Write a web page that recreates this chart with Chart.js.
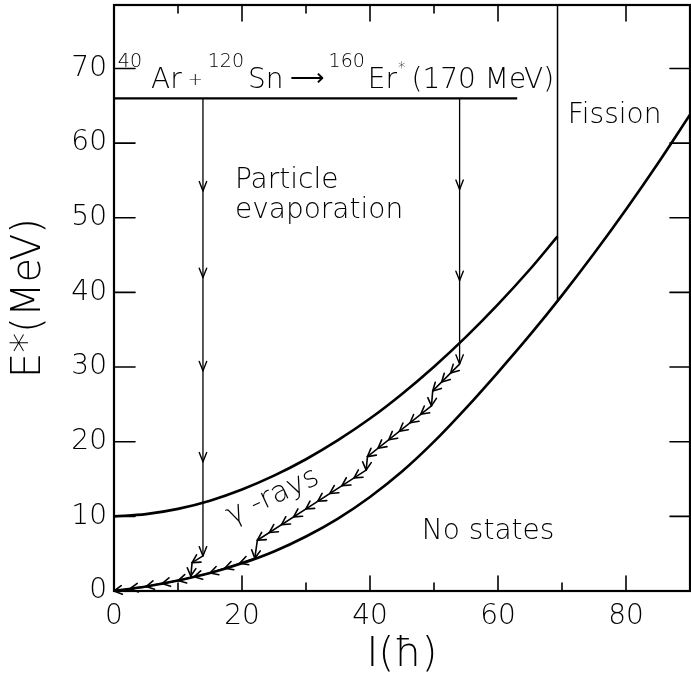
<!DOCTYPE html>
<html>
<head>
<meta charset="utf-8">
<script src="https://cdn.jsdelivr.net/npm/chart.js@4.4.0/dist/chart.umd.min.js"></script>
<style>
html, body { margin: 0; padding: 0; background: #fff; }
</style>
</head>
<body>
<canvas id="mycanvas" width="691" height="682"></canvas>
<script>
// --- data (spin I in hbar, excitation E* in MeV) ---
var spinGrid   = [0, 5, 10, 15, 20, 25, 30, 35, 40, 45, 50, 55, 60, 65, 70, 75, 80, 85, 90];
var noStatesE  = [0, 0.6, 1.4, 2.4, 3.7, 5.3, 7.3, 9.7, 12.6, 16.0, 20.0, 24.5, 29.3, 34.3, 39.6, 45.2, 51.1, 57.3, 63.8];

var evapSpin   = [0, 5, 10, 15, 20, 25, 30, 35, 40, 45, 50, 55, 60, 65, 69.3];
var evapE      = [10, 10.3, 11.0, 12.1, 13.6, 15.45, 17.65, 20.2, 23.1, 26.4, 30.05, 34.05, 38.4, 43.1, 47.5];

var fissionSpin = 69.3;
var fissionE    = [39.0, 78.5];

var entryE     = 66;
var entrySpin  = [0, 63];

var arrowSpinA  = 13.9;
var arrowA_E    = [66, 4.7];
var arrowHeadsA = [53.6, 42.0, 29.5, 17.3, 4.7];

var arrowSpinB  = 54;
var arrowB_E    = [66, 30.4];
var arrowHeadsB = [53.8, 41.6, 30.4];

var cascadeSpinB = [54, 49.8, 49.6, 39.6, 39.4, 22.4, 22.0, 15, 10, 5, 0];
var cascadeEB    = [30.4, 26.8, 24.8, 18.0, 16.2, 6.8, 4.4, 2.4, 1.4, 0.6, 0];
var cascadeSpinA = [13.9, 12.2, 12.0];
var cascadeEA    = [4.7, 3.8, 2.0];

var xTicks = [0, 20, 40, 60, 80];
var xMinor = [10, 30, 50, 70];
var topTicks = [10, 20, 30, 40, 50, 60, 80];
var yTicks = [0, 10, 20, 30, 40, 50, 60, 70];

var FONT = '"DejaVu Sans", sans-serif';
var WEIGHT = '200';
var INK = '#000';

function pts(xs, ys) {
	var out = [];
	for (var i in xs) out.push({x: xs[i], y: ys[i]});
	return out;
}
function vline(x, ys) {
	return ys.map(function(y) { return {x: x, y: y}; });
}

function chevron(ctx, x, y, dx, dy, len, ang) {
	var l = Math.sqrt(dx * dx + dy * dy);
	dx /= l; dy /= l;
	for (var s = -1; s <= 1; s += 2) {
		var c = Math.cos(ang * s), sn = Math.sin(ang * s);
		var rx = dx * c - dy * sn, ry = dx * sn + dy * c;
		ctx.beginPath();
		ctx.moveTo(x, y);
		ctx.lineTo(x - rx * len, y - ry * len);
		ctx.stroke();
	}
}

function noPad(s) {
	s.paddingTop = 0; s.paddingBottom = 0; s.paddingLeft = 0; s.paddingRight = 0;
}

var decorations = {
	id: 'decorations',
	afterDatasetsDraw: function(chart) {
		var ctx = chart.ctx, a = chart.chartArea;
		var xs = chart.scales.x, ys = chart.scales.y;
		ctx.save();
		ctx.strokeStyle = INK;
		ctx.fillStyle = INK;
		ctx.lineCap = 'round';

		// frame
		ctx.lineWidth = 2.2;
		ctx.strokeRect(a.left, a.top, a.right - a.left, a.bottom - a.top);

		// inward ticks
		ctx.lineWidth = 1.6;
		xTicks.concat(xMinor).forEach(function(v) {
			if (v === 0) return;
			var px = xs.getPixelForValue(v);
			var len = xMinor.indexOf(v) >= 0 ? 8 : 15;
			ctx.beginPath(); ctx.moveTo(px, a.bottom); ctx.lineTo(px, a.bottom - len); ctx.stroke();
		});
		topTicks.forEach(function(v) {
			var px = xs.getPixelForValue(v);
			var len = (v % 20 === 0) ? 16 : 8;
			ctx.beginPath(); ctx.moveTo(px, a.top); ctx.lineTo(px, a.top + len); ctx.stroke();
		});
		yTicks.forEach(function(v) {
			if (v === 0) return;
			var py = ys.getPixelForValue(v);
			ctx.beginPath(); ctx.moveTo(a.left, py); ctx.lineTo(a.left + 21, py); ctx.stroke();
			ctx.beginPath(); ctx.moveTo(a.right, py); ctx.lineTo(a.right - 20, py); ctx.stroke();
		});

		// arrowheads on the evaporation arrows
		ctx.lineWidth = 1.4;
		[[arrowSpinA, arrowHeadsA], [arrowSpinB, arrowHeadsB]].forEach(function(p) {
			var px = xs.getPixelForValue(p[0]);
			p[1].forEach(function(e) {
				chevron(ctx, px, ys.getPixelForValue(e), 0, 1, 10, 0.38);
			});
		});

		// chevrons along the gamma cascades
		chart.data.datasets.forEach(function(ds, i) {
			if (!ds.cascade) return;
			var el = chart.getDatasetMeta(i).data;
			ctx.lineWidth = 1.6;
			for (var k = 1; k < el.length; k++) {
				var x0 = el[k - 1].x, y0 = el[k - 1].y, x1 = el[k].x, y1 = el[k].y;
				var dx = x1 - x0, dy = y1 - y0;
				var len = Math.sqrt(dx * dx + dy * dy);
				var n = Math.max(1, Math.round(len / 14));
				for (var j = 1; j <= n; j++) {
					var t = j / n;
					chevron(ctx, x0 + dx * t, y0 + dy * t, dx, dy, 9, 0.5);
				}
			}
		});

		// labels inside the plot
		ctx.textBaseline = 'alphabetic';
		ctx.textAlign = 'left';
		function put(txt, i, e, size) {
			ctx.font = WEIGHT + ' ' + size + 'px ' + FONT;
			ctx.fillText(txt, xs.getPixelForValue(i), ys.getPixelForValue(e));
		}
		put('Particle', 18.9, 54.0, 28);
		put('evaporation', 18.9, 50.0, 28);
		put('Fission', 70.9, 62.7, 28);
		put('No states', 48.1, 7.0, 28);

		ctx.save();
		ctx.translate(xs.getPixelForValue(24.8), ys.getPixelForValue(12.6));
		ctx.rotate(-25 * Math.PI / 180);
		ctx.textAlign = 'center';
		ctx.textBaseline = 'middle';
		ctx.font = WEIGHT + ' 29px ' + FONT;
		ctx.fillText('\u03b3 -rays', 0, 0);
		ctx.restore();

		// reaction label: text, size, rise above baseline, gap after
		var parts = [
			['40', 19, 21, 9], ['Ar', 28, 0, 6], ['+', 18, 3, 5],
			['120', 19, 21, 4], ['Sn', 28, 0, 6], ['\u27f6', 24, 2, 5],
			['160', 19, 21, 3], ['Er', 28, 0, 1], ['*', 15, 15, 6], ['(170 MeV)', 28, 0, 0]
		];
		var cx = xs.getPixelForValue(0.6), by = ys.getPixelForValue(67.4);
		parts.forEach(function(p) {
			ctx.font = WEIGHT + ' ' + p[1] + 'px ' + FONT;
			ctx.fillText(p[0], cx, by - p[2]);
			cx += ctx.measureText(p[0]).width + p[3];
		});
		ctx.restore();
	}
};

var lineStyle = {showLine: true, pointRadius: 0, borderColor: INK, fill: false};

var ctx = document.getElementById('mycanvas');
var chart = new Chart(ctx, {
	type: 'scatter',
	data: {
		datasets: [
			Object.assign({data: pts(spinGrid, noStatesE), borderWidth: 2.6, cubicInterpolationMode: 'monotone'}, lineStyle),
			Object.assign({data: pts(evapSpin, evapE), borderWidth: 2.6, cubicInterpolationMode: 'monotone'}, lineStyle),
			Object.assign({data: vline(fissionSpin, fissionE), borderWidth: 1.5}, lineStyle),
			Object.assign({data: pts(entrySpin, [entryE, entryE]), borderWidth: 2.2}, lineStyle),
			Object.assign({data: vline(arrowSpinA, arrowA_E), borderWidth: 1.3}, lineStyle),
			Object.assign({data: vline(arrowSpinB, arrowB_E), borderWidth: 1.3}, lineStyle),
			Object.assign({data: pts(cascadeSpinB, cascadeEB), borderWidth: 1.6, cascade: true}, lineStyle),
			Object.assign({data: pts(cascadeSpinA, cascadeEA), borderWidth: 1.6, cascade: true}, lineStyle)
		]
	},
	options: {
		responsive: false,
		animation: false,
		layout: {padding: {top: 5, right: 1, left: 0, bottom: 0}},
		plugins: {legend: {display: false}, tooltip: {enabled: false}},
		scales: {
			x: {
				type: 'linear', min: 0, max: 90,
				grid: {display: false, drawTicks: false},
				border: {display: false},
				afterBuildTicks: function(s) { s.ticks = xTicks.map(function(v) { return {value: v}; }); },
				afterFit: function(s) { s.height = 91; noPad(s); },
				ticks: {color: INK, padding: 9, maxRotation: 0, font: {family: FONT, size: 28, weight: WEIGHT}},
				title: {display: true, text: 'I(\u0127)', color: INK, padding: {top: 0, bottom: 2}, font: {family: FONT, size: 40, weight: WEIGHT}}
			},
			y: {
				type: 'linear', min: 0, max: 78.5,
				grid: {display: false, drawTicks: false},
				border: {display: false},
				afterBuildTicks: function(s) { s.ticks = yTicks.map(function(v) { return {value: v}; }); },
				afterFit: function(s) { s.width = 114; noPad(s); },
				ticks: {color: INK, padding: 7, font: {family: FONT, size: 28, weight: WEIGHT}},
				title: {display: true, text: 'E*(MeV)', color: INK, padding: {top: 6, bottom: 0}, font: {family: FONT, size: 40, weight: WEIGHT}}
			}
		}
	},
	plugins: [decorations]
});
</script>
</body>
</html>
